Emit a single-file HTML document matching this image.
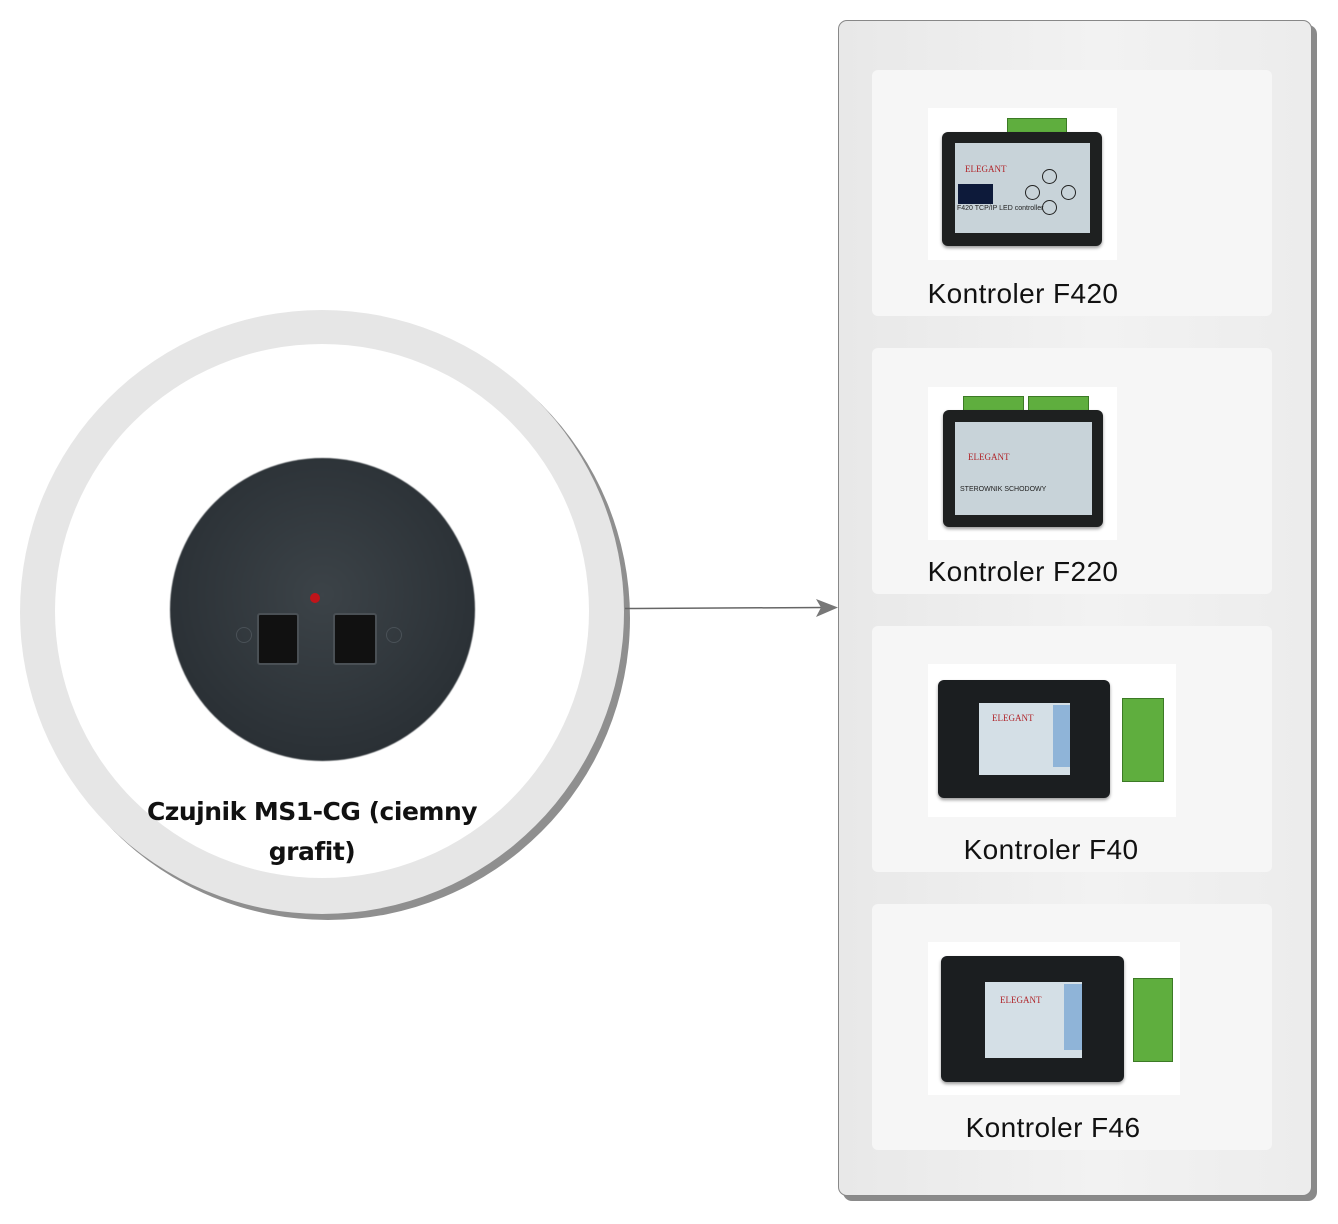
<!DOCTYPE html>
<html><head><meta charset="utf-8"><style>
html,body{margin:0;padding:0;width:1338px;height:1224px;background:#fff;overflow:hidden;font-family:"Liberation Sans",sans-serif;position:relative}
.abs{position:absolute}
.lbl{position:absolute;font-size:28px;letter-spacing:0.4px;color:#111;white-space:nowrap;transform:translateX(-50%);line-height:30px}
.body{position:absolute;background:#1e2020;border-radius:6px;box-shadow:0 2px 3px rgba(0,0,0,.4)}
.panel{position:absolute;background:#c8d3d9}
.grn{position:absolute;background:#5fae3e;border:1px solid #3c7a25}
.img{position:absolute;background:#fff}
.card{position:absolute;left:872px;width:400px;height:246px;background:#f6f6f6;border-radius:6px}
.t{position:absolute;font-size:9px;color:#b0252a;font-family:"Liberation Serif",serif}
</style></head><body>
<div class="abs" style="left:26px;top:316px;width:604px;height:604px;border-radius:50%;background:#8f8f8f"></div>
<div class="abs" style="left:20px;top:310px;width:604px;height:604px;border-radius:50%;background:#e6e6e6"></div>
<div class="abs" style="left:55px;top:344px;width:534px;height:534px;border-radius:50%;background:#fff"></div>
<div class="abs" style="left:170px;top:458px;width:305px;height:303px;border-radius:50%;background:radial-gradient(circle at 50% 45%,#3c4348,#2b3136 70%,#25292c);filter:blur(.6px)"></div>
<div class="abs" style="left:310px;top:593px;width:10px;height:10px;border-radius:50%;background:#c0141a"></div>
<div class="abs" style="left:257px;top:613px;width:38px;height:48px;background:#111;border:2px solid #4a5055;border-radius:3px"></div>
<div class="abs" style="left:333px;top:613px;width:40px;height:48px;background:#111;border:2px solid #4a5055;border-radius:3px"></div>
<div class="abs" style="left:236px;top:627px;width:14px;height:14px;border-radius:50%;border:1px solid #4a5157"></div>
<div class="abs" style="left:386px;top:627px;width:14px;height:14px;border-radius:50%;border:1px solid #4a5157"></div>
<div class="abs" style="left:312px;top:792px;transform:translateX(-50%);width:360px;text-align:center;font-size:25px;line-height:40px;color:#111;font-family:'DejaVu Sans',sans-serif;font-weight:600;letter-spacing:-.5px">Czujnik MS1-CG (ciemny grafit)</div>
<svg class="abs" style="left:0;top:0" width="1338" height="1224"><line x1="625" y1="608.5" x2="825" y2="607.5" stroke="#666" stroke-width="1.5"/><path d="M816 599 L838 607.5 L816 617 L821 607.5Z" fill="#777"/></svg>
<div class="abs" style="left:843px;top:25px;width:474px;height:1176px;border-radius:9px;background:#8a8a8a"></div>
<div class="abs" style="left:838px;top:20px;width:472px;height:1174px;border-radius:9px;border:1.5px solid #888;background:linear-gradient(90deg,#e8e8e8,#f2f2f2 55%,#ececec)"></div>
<div class="card" style="top:70px"></div>
<div class="card" style="top:348px"></div>
<div class="card" style="top:626px"></div>
<div class="card" style="top:904px"></div>
<div class="img" style="left:928px;top:108px;width:189px;height:152px"></div>
<div class="grn" style="left:1007px;top:118px;width:58px;height:13px"></div>
<div class="body" style="left:942px;top:132px;width:160px;height:114px"></div>
<div class="panel" style="left:955px;top:143px;width:135px;height:90px"></div>
<div class="abs" style="left:958px;top:184px;width:35px;height:20px;background:#0d1a3a"></div>
<div class="t" style="left:965px;top:164px">ELEGANT</div>
<div class="abs" style="left:1042px;top:169px;width:13px;height:13px;border:1px solid #222;border-radius:50%"></div>
<div class="abs" style="left:1025px;top:185px;width:13px;height:13px;border:1px solid #222;border-radius:50%"></div>
<div class="abs" style="left:1061px;top:185px;width:13px;height:13px;border:1px solid #222;border-radius:50%"></div>
<div class="abs" style="left:1042px;top:200px;width:13px;height:13px;border:1px solid #222;border-radius:50%"></div>
<div class="abs" style="left:957px;top:205px;font-size:7px;color:#222">F420 TCP/IP LED controller</div>
<div class="lbl" style="left:1023px;top:279px">Kontroler F420</div>
<div class="img" style="left:928px;top:387px;width:189px;height:153px"></div>
<div class="grn" style="left:963px;top:396px;width:59px;height:13px"></div>
<div class="grn" style="left:1028px;top:396px;width:59px;height:13px"></div>
<div class="body" style="left:943px;top:410px;width:160px;height:117px"></div>
<div class="panel" style="left:955px;top:422px;width:137px;height:93px"></div>
<div class="t" style="left:968px;top:452px">ELEGANT</div>
<div class="abs" style="left:960px;top:486px;font-size:7px;color:#222">STEROWNIK SCHODOWY</div>
<div class="lbl" style="left:1023px;top:557px">Kontroler F220</div>
<div class="img" style="left:928px;top:664px;width:248px;height:153px"></div>
<div class="body" style="left:938px;top:680px;width:172px;height:118px;background:#1b1e20"></div>
<div class="panel" style="left:979px;top:703px;width:91px;height:72px;background:#d4dfe6"></div>
<div class="abs" style="left:1053px;top:705px;width:17px;height:62px;background:#8fb4d8"></div>
<div class="t" style="left:992px;top:713px">ELEGANT</div>
<div class="grn" style="left:1122px;top:698px;width:40px;height:82px"></div>
<div class="lbl" style="left:1051px;top:835px">Kontroler F40</div>
<div class="img" style="left:928px;top:942px;width:252px;height:153px"></div>
<div class="body" style="left:941px;top:956px;width:183px;height:126px;background:#1b1e20"></div>
<div class="panel" style="left:985px;top:982px;width:97px;height:76px;background:#d4dfe6"></div>
<div class="abs" style="left:1064px;top:984px;width:18px;height:66px;background:#8fb4d8"></div>
<div class="t" style="left:1000px;top:995px">ELEGANT</div>
<div class="grn" style="left:1133px;top:978px;width:38px;height:82px"></div>
<div class="lbl" style="left:1053px;top:1113px">Kontroler F46</div>
</body></html>
